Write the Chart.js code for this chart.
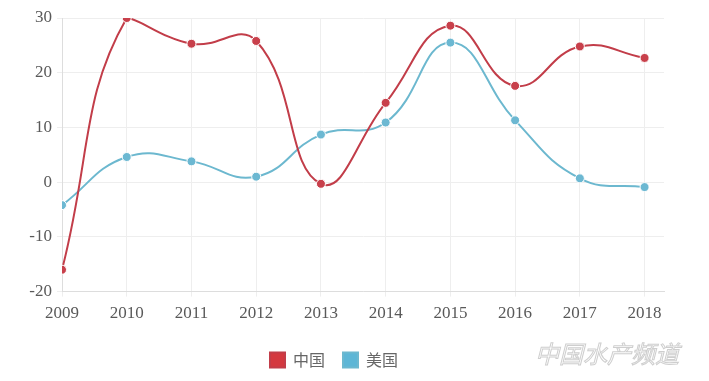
<!DOCTYPE html>
<html><head><meta charset="utf-8">
<script src="https://cdn.jsdelivr.net/npm/chart.js@4"></script>
<style>html,body{margin:0;padding:0;background:#fff}#w{width:709px;height:381px}</style>
</head><body><div id="w"><canvas id="c"></canvas></div>
<script>
const years = ["2009","2010","2011","2012","2013","2014","2015","2016","2017","2018"];
const chinaValues = [-16, 30, 25.3, 25.8, -0.3, 14.5, 28.6, 17.6, 24.8, 22.7];
const usaValues = [-4.2, 4.6, 3.8, 1.0, 8.7, 10.9, 25.5, 11.3, 0.7, -0.9];
const seriesNames = ["中国", "美国"];
const yTicks = [-20, -10, 0, 10, 20, 30];

const toPts = vals => vals.map((v, i) => ({x: Number(years[i]), y: v}));
const serif = "'Liberation Serif', 'DejaVu Serif', serif";
const cjk = "'Noto Sans CJK SC', sans-serif";

const legendShift = {
  id: 'legendShift',
  afterLayout(chart) {
    const l = chart.legend;
    if (!l) return;
    l.top += 3; l.bottom += 3;
    l.left += 2; l.right += 2;
    if (l.legendHitBoxes) l.legendHitBoxes.forEach(b => { b.top += 3; b.left += 2; });
  }
};

const watermark = {
  id: 'wm',
  afterDraw(chart) {
    const ctx = chart.ctx;
    ctx.save();
    ctx.font = "italic 24px " + cjk;
    ctx.strokeStyle = "rgba(185,185,185,0.7)";
    ctx.lineWidth = 1;
    ctx.textBaseline = "middle";
    ctx.strokeText("中国水产频道", 535, 354);
    ctx.restore();
  }
};

new Chart(document.getElementById('c'), {
  type: 'line',
  data: {
    datasets: [
      {label: seriesNames[0], data: toPts(chinaValues), borderColor: '#c23d49', backgroundColor: '#d4383f',
       pointBackgroundColor: '#c8404b', pointBorderColor: '#fff', pointBorderWidth: 1, pointRadius: 4.5,
       borderWidth: 2, tension: 0.45},
      {label: seriesNames[1], data: toPts(usaValues), borderColor: '#6cb8cf', backgroundColor: '#5db6d6',
       pointBackgroundColor: '#6cb8d2', pointBorderColor: '#fff', pointBorderWidth: 1, pointRadius: 4.5,
       borderWidth: 2, tension: 0.45}
    ]
  },
  options: {
    responsive: true, maintainAspectRatio: false, animation: false,
    layout: {padding: {top: 18, right: 45, left: 0, bottom: 6}},
    plugins: {
      tooltip: {enabled: false},
      legend: {position: 'bottom',
        labels: {boxWidth: 15, boxHeight: 15, padding: 18, color: '#666', font: {family: cjk, size: 16}}}
    },
    scales: {
      x: {type: 'linear', min: 2009, max: 2018.3,
        grid: {color: '#eeeeee', tickLength: 5, drawTicks: true},
        border: {color: '#dddddd'},
        afterBuildTicks: s => { s.ticks = years.map(y => ({value: Number(y)})); },
        ticks: {color: '#595959', font: {family: serif, size: 17}, padding: 7, maxRotation: 0,
          callback: (v) => years.find(y => Number(y) === v) || ''}
      },
      y: {min: -20, max: 30,
        afterBuildTicks: s => { s.ticks = yTicks.map(v => ({value: v})); },
        afterFit: s => { s.width = 62; },
        grid: {color: '#eeeeee', tickLength: 5},
        border: {color: '#dddddd'},
        ticks: {color: '#595959', font: {family: serif, size: 17}, padding: 5}
      }
    }
  },
  plugins: [legendShift, watermark]
});
</script></body></html>
